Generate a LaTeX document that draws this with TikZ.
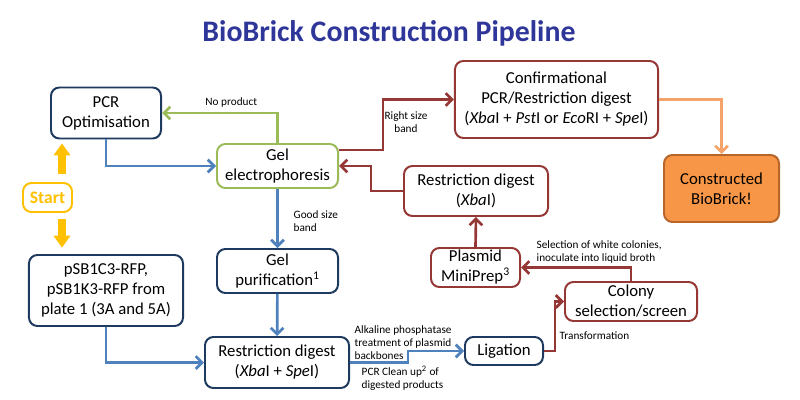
\documentclass[tikz,border=0pt]{standalone}
\usepackage{fontspec}
\setmainfont{Carlito}
\usetikzlibrary{arrows.meta,positioning,calc}

\definecolor{navy}{HTML}{1F3A5F}
\definecolor{bluearrow}{HTML}{4F81BD}
\definecolor{greenline}{HTML}{9BBB59}
\definecolor{darkred}{HTML}{953735}
\definecolor{orangefill}{HTML}{F79646}
\definecolor{orangedraw}{HTML}{B7652B}
\definecolor{orangeline}{HTML}{F4A46A}
\definecolor{startyellow}{HTML}{FFC000}
\definecolor{titleblue}{HTML}{2F3699}

\begin{document}
\begin{tikzpicture}[
    x=0.025cm, y=-0.025cm,
    box/.style={rectangle, draw, fill=white, rounded corners=6pt, line width=1.4pt, align=center, inner sep=1pt, font=\fontsize{11.9}{14.2}\selectfont},
    navybox/.style={box, draw=navy},
    redbox/.style={box, draw=darkred},
    greenbox/.style={box, draw=greenline},
    lbl/.style={font=\fontsize{8}{9.2}\selectfont, align=left, inner sep=1pt},
    link/.style={-{Straight Barb[length=4.5pt,width=9pt]}, line width=1.9pt},
    bluelink/.style={link, draw=bluearrow},
    greenlink/.style={link, draw=greenline},
    redlink/.style={link, draw=darkred},
    orangelink/.style={link, draw=orangeline},
    startarrow/.style={-{Triangle[length=8.5pt,width=11.5pt]}, line width=5pt, draw=startyellow}
]
    \useasboundingbox (0,0) rectangle (800,400);

    \node[font=\fontsize{21.2}{24}\selectfont\bfseries, text=titleblue] (title) at (389,33) {BioBrick Construction Pipeline};

    % left column
    \node[navybox, minimum width=2.75cm, minimum height=1.275cm] (pcropt) at (106,113) {PCR\\Optimisation};
    \node[box, draw=startyellow, text=startyellow, minimum width=1.225cm, minimum height=0.725cm, font=\fontsize{12.5}{14}\selectfont\bfseries] (start) at (47.5,197.5) {Start};
    \node[navybox, minimum width=3.85cm, minimum height=1.775cm] (vectors) at (106,290.5) {pSB1C3-RFP,\\pSB1K3-RFP from\\plate 1 (3A and 5A)};

    % middle column
    \node[greenbox, minimum width=3.025cm, minimum height=1.1cm] (gel) at (277.5,166) {Gel\\electrophoresis};
    \node[navybox, minimum width=3.025cm, minimum height=1.1cm] (gelpur) at (277.5,271) {Gel\\purification\textsuperscript{1}};
    \node[navybox, minimum width=3.6cm, minimum height=1.275cm] (digest) at (277,362.5) {Restriction digest\\(\textit{Xba}I + \textit{Spe}I)};

    % right side
    \node[navybox, minimum width=1.95cm, minimum height=0.7cm] (ligation) at (504,351) {Ligation};
    \node[redbox, minimum width=3.3cm, minimum height=0.975cm] (colony) at (631,301.5) {Colony\\selection/screen};
    \node[redbox, minimum width=2.225cm, minimum height=0.975cm] (miniprep) at (475.5,267.5) {Plasmid\\MiniPrep\textsuperscript{3}};
    \node[redbox, minimum width=3.6cm, minimum height=1.25cm] (xbadigest) at (476,191) {Restriction digest\\(\textit{Xba}I)};
    \node[redbox, minimum width=5.075cm, minimum height=1.925cm] (confirm) at (556.5,99.5) {Confirmational\\PCR/Restriction digest\\(\textit{Xba}I + \textit{Pst}I or \textit{Eco}RI + \textit{Spe}I)};
    \node[box, fill=orangefill, draw=orangedraw, minimum width=2.875cm, minimum height=1.675cm] (biobrick) at (721.5,188.5) {Constructed\\BioBrick!};

    % start arrows
    \coordinate (startx) at (62,0);
    \draw[startarrow, shorten <=5.7pt, shorten >=2.8pt] (start.north -| startx) -- (pcropt.south -| startx);
    \draw[startarrow, shorten <=4pt, shorten >=4.5pt] (start.south -| startx) -- (vectors.north -| startx);

    % connectors
    \draw[bluelink] (pcropt.south) |- (gel.west);
    \draw[greenlink] (gel.north) |- (pcropt.east) node[lbl, pos=0.7, above=2pt] (noprod) {No product};
    \draw[bluelink] (gel) -- (gelpur);
    \node[lbl, anchor=west] (goodlbl) at (292,221) {Good size\\band};
    \draw[bluelink] (gelpur) -- (digest);
    \draw[bluelink] (vectors.south) |- (digest.west);
    \draw[bluelink] (digest.east) -- ++(58,0) |- (ligation.west);
    \node[lbl, anchor=north west] (alklbl) at (353,324) {Alkaline phosphatase\\treatment of plasmid\\backbones};
    \node[lbl, anchor=north west] (cleanlbl) at (360,364) {PCR Clean up\textsuperscript{2} of\\digested products};
    \draw[redlink] (ligation.east) -- ++(11,0) |- (colony.west);
    \node[lbl, anchor=west] (translbl) at (558,336) {Transformation};
    \draw[redlink] (colony.north) |- (miniprep.east);
    \node[lbl, anchor=north west] (sellbl) at (535,239) {Selection of white colonies,\\inoculate into liquid broth};
    \draw[redlink] (miniprep.north) -- (xbadigest.south);
    \draw[redlink] (xbadigest.west) -- ++(-32,0) |- (gel.east);
    \draw[redlink] ($(gel.east)+(0,-16)$) -- ++(44,0) |- (confirm.west);
    \node[lbl, align=center] (rightlbl) at (406,122) {Right size\\band};
    \draw[orangelink] (confirm.east) -| (biobrick.north);
\end{tikzpicture}
\end{document}
